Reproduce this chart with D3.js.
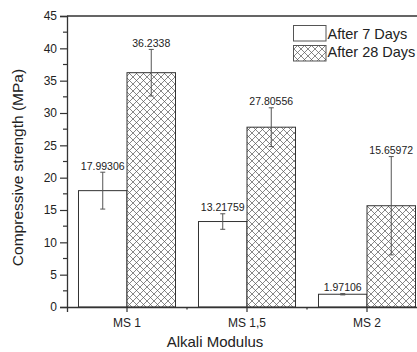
<!DOCTYPE html>
<html><head><meta charset="utf-8">
<script src="https://cdn.jsdelivr.net/npm/d3@7"></script>
<style>
html,body{margin:0;padding:0;background:#fff;overflow:hidden}
text{font-family:"Liberation Sans",Arial,sans-serif;fill:#222}
</style></head>
<body><svg id="c" width="417" height="352"></svg>
<script>
const categories = ["MS 1", "MS 1,5", "MS 2"];
const day7 = [17.99306, 13.21759, 1.97106];
const day28 = [36.2338, 27.80556, 15.65972];
const err7 = [2.85, 1.2, 0.1];
const err28 = [3.6, 3.0, 7.6];
const seriesNames = ["After 7 Days", "After 28 Days"];
const yTicks = [0, 5, 10, 15, 20, 25, 30, 35, 40, 45];

const svg = d3.select("#c");
const L = 67, R = 427, T = 16, B = 307;

const defs = svg.append("defs");
const P = 7;
const pat = defs.append("pattern").attr("id", "hatch")
  .attr("patternUnits", "userSpaceOnUse").attr("width", P).attr("height", P);
pat.append("rect").attr("width", P).attr("height", P).attr("fill", "#fff");
pat.append("path")
  .attr("d", `M-1,1 L1,-1 M0,${P} L${P},0 M${P-1},${P+1} L${P+1},${P-1} M-1,${P-1} L1,${P+1} M0,0 L${P},${P} M${P-1},-1 L${P+1},1`)
  .attr("stroke", "#555").attr("stroke-width", 0.7).attr("fill", "none");

const x = d3.scaleBand().domain(categories).range([L, R]).paddingInner(0).paddingOuter(0);
const xs = d3.scaleBand().domain(["7", "28"]).range([0, x.bandwidth()]).paddingInner(0).paddingOuter(0.237);
const y = d3.scaleLinear().domain([0, 45]).range([B, T]);

const rows = categories.map((c, i) => [
  {cat: c, key: "7", v: day7[i], e: err7[i]},
  {cat: c, key: "28", v: day28[i], e: err28[i]}
]).flat();

// bars
svg.append("g").selectAll("rect").data(rows).join("rect")
  .attr("x", d => x(d.cat) + xs(d.key))
  .attr("y", d => y(d.v))
  .attr("width", xs.bandwidth())
  .attr("height", d => y(0) - y(d.v))
  .attr("fill", d => d.key === "7" ? "#fff" : "url(#hatch)")
  .attr("stroke", "#333").attr("stroke-width", 1);

// error bars
const eg = svg.append("g").attr("stroke", "#555").attr("stroke-width", 1);
rows.forEach(d => {
  const cx = x(d.cat) + xs(d.key) + xs.bandwidth() / 2;
  eg.append("line").attr("x1", cx).attr("x2", cx).attr("y1", y(d.v + d.e)).attr("y2", y(d.v - d.e));
  eg.append("line").attr("x1", cx - 2.5).attr("x2", cx + 2.5).attr("y1", y(d.v + d.e)).attr("y2", y(d.v + d.e));
  eg.append("line").attr("x1", cx - 2.5).attr("x2", cx + 2.5).attr("y1", y(d.v - d.e)).attr("y2", y(d.v - d.e));
});

// value labels
svg.append("g").selectAll("text").data(rows).join("text")
  .attr("x", d => x(d.cat) + xs(d.key) + xs.bandwidth() / 2)
  .attr("y", d => y(d.v + d.e) - 2.5)
  .attr("text-anchor", "middle").attr("font-size", 10.5).attr("fill", "#333")
  .text(d => String(d.v));

// frame top/right
svg.append("path").attr("d", `M${L},${T} H${R} V${B}`).attr("fill", "none")
  .attr("stroke", "#333").attr("stroke-width", 1.3);

// y axis
const yAxis = svg.append("g").attr("transform", `translate(${L},0)`)
  .call(d3.axisLeft(y).tickValues(yTicks).tickSize(7).tickPadding(3).tickFormat(d3.format("d")));
yAxis.select(".domain").attr("stroke", "#333").attr("stroke-width", 1.3);
yAxis.selectAll(".tick line").attr("stroke", "#333").attr("stroke-width", 1.2);
yAxis.selectAll("text").attr("font-size", 12).attr("font-family", "Liberation Sans,Arial,sans-serif").attr("fill", "#222");
yAxis.append("g").selectAll("line").data(yTicks.slice(0, -1).map(t => t + 2.5)).join("line")
  .attr("x1", -4).attr("x2", 0).attr("y1", d => y(d)).attr("y2", d => y(d))
  .attr("stroke", "#333").attr("stroke-width", 1.2);

// x axis
const xAxis = svg.append("g").attr("transform", `translate(0,${B})`)
  .call(d3.axisBottom(x).tickSize(5).tickPadding(6));
xAxis.select(".domain").attr("stroke", "#333").attr("stroke-width", 1.3);
xAxis.selectAll(".tick line").attr("stroke", "#333").attr("stroke-width", 1.2);
xAxis.selectAll("text").attr("font-size", 12).attr("font-family", "Liberation Sans,Arial,sans-serif").attr("fill", "#222");
xAxis.append("g").selectAll("line").data(categories.slice(1)).join("line")
  .attr("x1", d => x(d)).attr("x2", d => x(d)).attr("y1", 0).attr("y2", 2.5)
  .attr("stroke", "#333").attr("stroke-width", 1.2);

// axis titles
svg.append("text").attr("x", (L + 427) / 2 - 32).attr("y", 347)
  .attr("text-anchor", "middle").attr("font-size", 15).text("Alkali Modulus");
svg.append("text").attr("transform", `translate(22.5,${(T + B) / 2 + 6}) rotate(-90)`)
  .attr("text-anchor", "middle").attr("font-size", 15.5).text("Compressive strength (MPa)");

// legend
const lg = svg.append("g");
seriesNames.forEach((n, i) => {
  lg.append("rect").attr("x", 293.5).attr("y", 25.5 + i * 20).attr("width", 32.5).attr("height", 15.5)
    .attr("fill", i === 0 ? "#fff" : "url(#hatch)").attr("stroke", "#555").attr("stroke-width", 1);
  lg.append("text").attr("x", 327.5).attr("y", 38.7 + i * 18.2).attr("font-size", 14.5).text(n);
});
</script></body></html>
